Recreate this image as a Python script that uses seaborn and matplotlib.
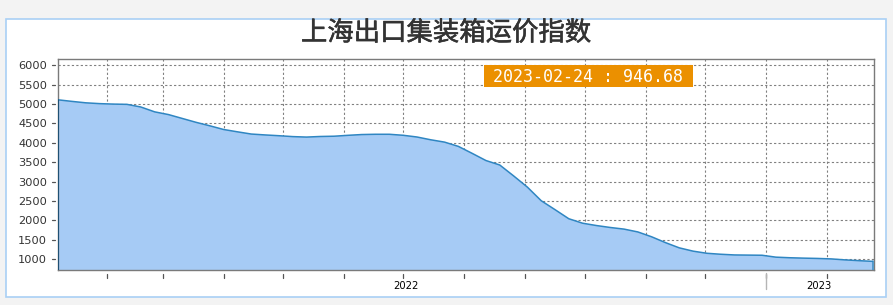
import matplotlib
matplotlib.use("Agg")
import matplotlib.pyplot as plt
import matplotlib.transforms as mtransforms
import matplotlib.patheffects as pe
from matplotlib.patches import Rectangle
import seaborn as sns
import pandas as pd

# ---------------- data ----------------
title = "上海出口集装箱运价指数"
start_date = "2022-01-07"
values = [
    5110, 5070, 5033, 5012, 5000, 4993, 4925, 4800, 4730, 4630,
    4530, 4440, 4345, 4285, 4228, 4205, 4185, 4162, 4150, 4165,
    4172, 4195, 4215, 4222, 4222, 4196, 4152, 4080, 4020, 3910,
    3730, 3545, 3430, 3150, 2860, 2510, 2280, 2045, 1930, 1870,
    1820, 1778, 1705, 1580, 1430, 1295, 1210, 1155, 1130, 1112,
    1108, 1104, 1055, 1040, 1030, 1022, 1010, 985, 965, 946.68,
]
dates = pd.date_range(start_date, periods=len(values), freq="7D")
df = pd.DataFrame({"date": dates, "value": values})
yticks = [1000, 1500, 2000, 2500, 3000, 3500, 4000, 4500, 5000, 5500, 6000]
year_labels = ["2022", "2023"]

# ---------------- style ----------------
sns.set_style("white")
plt.rcParams["font.family"] = ["DejaVu Sans", "Noto Sans CJK SC"]

W, H = 893, 305
fig = plt.figure(figsize=(W / 100, H / 100), dpi=100, facecolor="#f3f3f3")

# white panel with light blue border
panel = Rectangle((5.5 / W, 1 - 297 / H), (886 - 5.5) / W, (297 - 18.7) / H,
                  transform=fig.transFigure, facecolor="white",
                  edgecolor="#a9d0f5", linewidth=1.2, zorder=-10)
fig.patches.append(panel)

ax = fig.add_axes([58 / W, 1 - 270 / H, (874 - 58) / W, (270 - 59) / H])
ax.set_zorder(1)
ax.set_facecolor("white")

fill_col = "#a6cbf5"
line_col = "#2f86c2"

ymin, ymax = 724, 6162
ax.fill_between(df["date"], df["value"], ymin, facecolor=fill_col,
                edgecolor="none", zorder=2)
sns.lineplot(data=df, x="date", y="value", ax=ax, color=line_col,
             linewidth=1.1, zorder=3)
# area side edges
ax.plot([df["date"].iloc[0]] * 2, [ymin, df["value"].iloc[0]],
        color="#1d4f73", lw=1.4, zorder=3)
ax.plot([df["date"].iloc[-1]] * 2, [ymin, df["value"].iloc[-1]],
        color=line_col, lw=1.1, zorder=3)

x0 = df["date"].iloc[0]
x1 = df["date"].iloc[-1] + pd.Timedelta(hours=18)
ax.set_xlim(x0, x1)
ax.set_ylim(ymin, ymax)
ax.set_xlabel("")
ax.set_ylabel("")

# y ticks
ax.set_yticks(yticks)
ax.set_yticklabels([str(v) for v in yticks], fontsize=8.2, color="#333333")
ax.tick_params(axis="y", length=0, pad=8)
ytr = mtransforms.blended_transform_factory(ax.transAxes, ax.transData)
aw = 874 - 58
for v in yticks:
    ax.plot([-6.5 / aw, -3 / aw], [v, v], transform=ytr, color="#555555",
            lw=0.9, clip_on=False)

# x: month ticks (grid) and year labels at year-span midpoints
months = pd.date_range("2022-02-01", "2023-02-01", freq="MS")
ax.set_xticks(months, minor=True)
year_pos = []
for y in year_labels:
    a = pd.Timestamp(f"{y}-01-01")
    b = min(pd.Timestamp(f"{int(y) + 1}-01-01"), df["date"].iloc[-1])
    year_pos.append(a + (b - a) / 2)
ax.set_xticks(year_pos)
ax.set_xticklabels(year_labels, fontsize=7.2, color="black")
ax.tick_params(axis="x", which="both", length=0, pad=8)

ax.grid(True, axis="y", which="major", color="#808080", linestyle=(0, (2, 2)),
        linewidth=0.8, zorder=1)
ax.grid(True, axis="x", which="minor", color="#808080", linestyle=(0, (2, 2)),
        linewidth=0.8, zorder=1)
ax.grid(False, axis="x", which="major")
ax.set_axisbelow(True)

xtr = mtransforms.blended_transform_factory(ax.transData, ax.transAxes)
ah = 270 - 59
for m in months:
    ax.plot([m, m], [-4 / ah, -7.5 / ah], transform=xtr, color="#555555",
            lw=0.9, clip_on=False)
# year boundary tick
ax.plot([pd.Timestamp("2023-01-01")] * 2, [-3 / ah, -19 / ah], transform=xtr,
        color="#b5b5b5", lw=1.0, clip_on=False)

for s in ax.spines.values():
    s.set_color("#7a7a7a")
    s.set_linewidth(1.0)

# title
fig.text(446 / W, 1 - 33 / H, title, ha="center", va="center",
         fontsize=19, color="#333333",
         family=["Noto Sans CJK SC", "DejaVu Sans"], zorder=5,
         path_effects=[pe.withStroke(linewidth=0.4, foreground="#333333")])

# value box for last point
label = f"{df['date'].iloc[-1]:%Y-%m-%d} : {df['value'].iloc[-1]:.2f}"
bx0, bx1, by0, by1 = 483.5, 693, 65, 87
box = Rectangle((bx0 / W, 1 - by1 / H), (bx1 - bx0) / W, (by1 - by0) / H,
                transform=fig.transFigure, facecolor="#eb9000",
                edgecolor="none", zorder=5)
fig.add_artist(box)
fig.text((bx0 + bx1) / 2 / W, 1 - 76.5 / H, label, ha="center", va="center",
         fontsize=12, color="white", family="DejaVu Sans Mono", zorder=6)

fig.savefig("out.png", dpi=100, facecolor=fig.get_facecolor())
